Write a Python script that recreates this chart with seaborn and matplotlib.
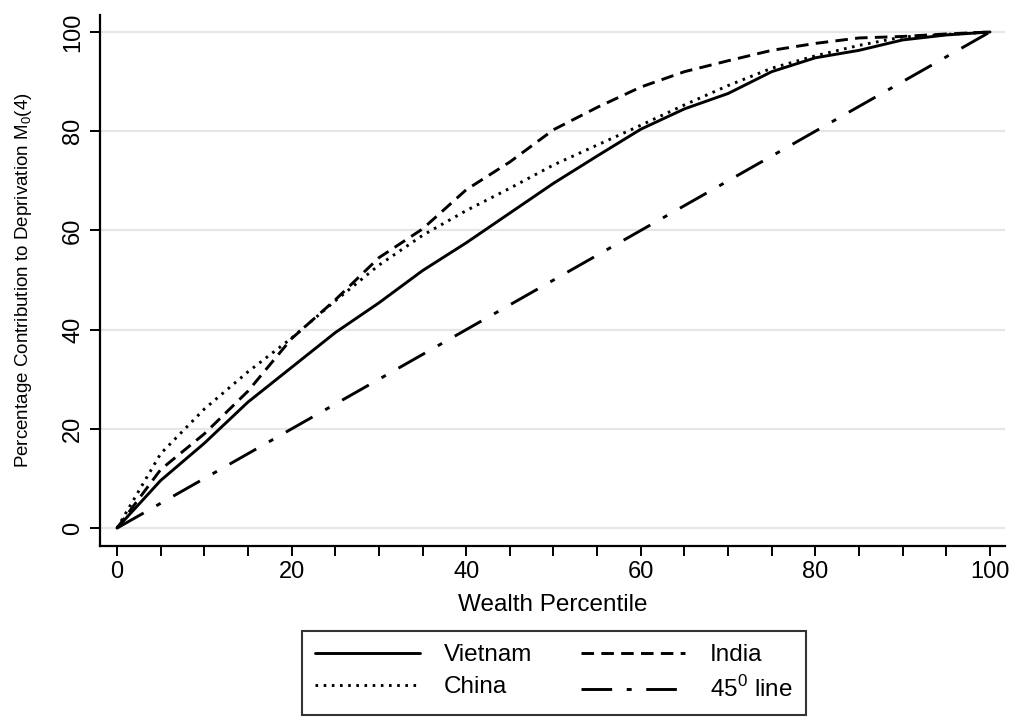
#!/usr/bin/env python3
"""
Concentration curves of deprivation by wealth percentile (Stata-like style).
"""

import pandas as pd
import seaborn as sns
import matplotlib.pyplot as plt
from matplotlib.ticker import MultipleLocator

# Wealth percentile grid (every 5th percentile)
percentile = [0, 5, 10, 15, 20, 25, 30, 35, 40, 45, 50,
              55, 60, 65, 70, 75, 80, 85, 90, 95, 100]

vietnam = [0, 9.6, 17.1, 25.4, 32.4, 39.4, 45.4, 51.9, 57.5, 63.5, 69.5,
           75.0, 80.4, 84.5, 87.6, 92.0, 94.8, 96.3, 98.4, 99.4, 100]
china = [0, 15.0, 24.0, 31.5, 38.3, 45.8, 53.0, 59.0, 64.0, 68.5, 73.2,
         77.2, 81.2, 85.3, 89.2, 92.7, 95.2, 97.3, 99.0, 99.5, 100]
india = [0, 11.8, 19.0, 27.6, 38.2, 46.0, 54.5, 60.3, 68.2, 73.8, 80.3,
         84.8, 88.9, 92.0, 94.2, 96.3, 97.7, 98.8, 99.1, 99.6, 100]
line45 = [0, 5, 10, 15, 20, 25, 30, 35, 40, 45, 50,
          55, 60, 65, 70, 75, 80, 85, 90, 95, 100]


def main():
    df = pd.DataFrame({"pct": percentile, "Vietnam": vietnam, "China": china,
                       "India": india, "45$^0$ line": line45})

    sns.set_theme(style="white")
    plt.rcParams["font.family"] = ["Liberation Sans", "DejaVu Sans"]
    plt.rcParams["mathtext.fontset"] = "custom"
    plt.rcParams["mathtext.rm"] = "Liberation Sans"
    plt.rcParams["text.color"] = "black"
    plt.rcParams["axes.labelcolor"] = "black"
    plt.rcParams["xtick.color"] = "black"
    plt.rcParams["ytick.color"] = "black"

    fig = plt.figure(figsize=(10.16, 7.2), dpi=100)
    ax = fig.add_axes([0.0984, 0.2417, 0.8906, 0.7373])

    lw = 2.1
    styles = {
        "Vietnam": "-",
        "China": (0, (0.9, 1.9)),
        "India": (0, (4.3, 2.5)),
        "45$^0$ line": (0, (10.5, 5.0, 1.7, 5.0)),
    }
    for name, ls in styles.items():
        sns.lineplot(data=df, x="pct", y=name, ax=ax, color="black",
                     linewidth=lw, linestyle=ls, label=name, legend=False)

    ax.set_xlim(-1.95, 101.7)
    ax.set_ylim(-3.6, 103.4)

    # light horizontal grid
    ax.yaxis.grid(True, color="#e6e6e6", linewidth=1.6)
    ax.xaxis.grid(False)
    ax.set_axisbelow(True)

    ax.xaxis.set_major_locator(MultipleLocator(20))
    ax.xaxis.set_minor_locator(MultipleLocator(5))
    ax.yaxis.set_major_locator(MultipleLocator(20))
    ax.tick_params(axis="both", which="both", direction="out", length=7.5,
                   width=1.4, color="black", labelsize=17, bottom=True, left=True)
    ax.tick_params(axis="x", pad=3)
    ax.tick_params(axis="y", pad=4)
    for lab in ax.get_yticklabels():
        lab.set_rotation(90)
        lab.set_va("center")

    for side in ["top", "right"]:
        ax.spines[side].set_visible(False)
    for side in ["left", "bottom"]:
        ax.spines[side].set_color("black")
        ax.spines[side].set_linewidth(1.6)

    ax.set_xlabel("Wealth Percentile", fontsize=17.5, labelpad=8)
    ax.set_ylabel("Percentage Contribution to Deprivation M$_0$(4)",
                  fontsize=13.5, labelpad=20)

    handles, labels = ax.get_legend_handles_labels()
    leg = fig.legend(handles, labels,
                     loc="center", bbox_to_anchor=(0.545, 0.065), ncol=2,
                     fontsize=17.5, frameon=True, fancybox=False,
                     handlelength=4.3, columnspacing=2.0, handletextpad=1.0,
                     borderpad=0.55, labelspacing=0.4, borderaxespad=0)
    leg.get_frame().set_edgecolor("black")
    leg.get_frame().set_linewidth(1.5)

    fig.savefig("out.png", dpi=100, facecolor="white")


if __name__ == "__main__":
    main()
